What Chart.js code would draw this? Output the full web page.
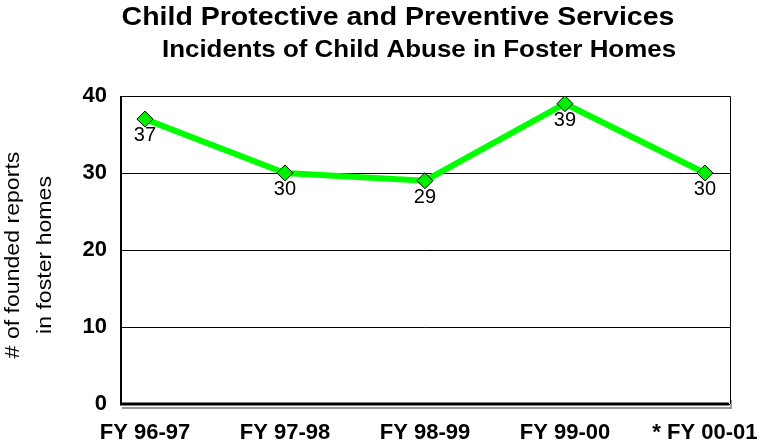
<!DOCTYPE html>
<html>
<head>
<meta charset="utf-8">
<script src="https://cdn.jsdelivr.net/npm/chart.js@4"></script>
<style>
  html, body { margin: 0; padding: 0; background: #fff; }
  #wrap { width: 763px; height: 448px; position: relative; }
</style>
</head>
<body>
<div id="wrap"><canvas id="line-chart" width="763" height="448"></canvas></div>
<script>
// chart data
const categories = ["FY 96-97", "FY 97-98", "FY 98-99", "FY 99-00", "* FY 00-01"];
const reports = [37, 30, 29, 39, 30];
const yTicks = [0, 10, 20, 30, 40];
const titleLines = ["Child Protective and Preventive Services", "Incidents of Child Abuse in Foster Homes"];
const yTitleLines = ["# of founded reports", "in foster homes"];

const FONT = "'Liberation Sans', Arial, sans-serif";

// draw text a little wider than the font gives (the source uses a wide Arial)
function wideText(ctx, text, x, y, stretch) {
  ctx.save();
  ctx.translate(x, y);
  ctx.scale(stretch, 1);
  ctx.fillText(text, 0, 0);
  ctx.restore();
}

// titles, y axis title, frame and value labels
const decorations = {
  id: "decorations",
  beforeDatasetsDraw(chart) {
    const { ctx, chartArea: a } = chart;
    ctx.save();
    // grey shadow under bottom axis
    ctx.strokeStyle = "#9a9a9a";
    ctx.lineWidth = 2;
    ctx.beginPath();
    ctx.moveTo(a.left + 1, a.bottom + 4);
    ctx.lineTo(a.right + 1, a.bottom + 4);
    ctx.lineTo(a.right + 1, a.bottom - 4);
    ctx.stroke();
    // thin top and right border
    ctx.strokeStyle = "#000";
    ctx.lineWidth = 1;
    ctx.beginPath();
    ctx.moveTo(a.left, a.top + 0.5);
    ctx.lineTo(a.right + 0.5, a.top + 0.5);
    ctx.lineTo(a.right + 0.5, a.bottom);
    ctx.stroke();
    // heavier left and bottom axis lines
    ctx.lineWidth = 2;
    ctx.beginPath();
    ctx.moveTo(a.left, a.top);
    ctx.lineTo(a.left, a.bottom);
    ctx.stroke();
    ctx.lineWidth = 3;
    ctx.beginPath();
    ctx.moveTo(a.left - 1, a.bottom);
    ctx.lineTo(a.right - 1, a.bottom);
    ctx.stroke();
    ctx.restore();
  },
  afterDraw(chart) {
    const { ctx } = chart;
    ctx.save();
    ctx.fillStyle = "#000";
    ctx.textAlign = "center";
    ctx.textBaseline = "alphabetic";
    ctx.font = "bold 25px " + FONT;
    wideText(ctx, titleLines[0], 398, 25, 1.14);
    ctx.font = "bold 24px " + FONT;
    wideText(ctx, titleLines[1], 419, 57, 1.08);

    ctx.font = "21px " + FONT;
    ctx.textBaseline = "middle";
    ctx.translate(0, 255);
    ctx.rotate(-Math.PI / 2);
    wideText(ctx, yTitleLines[0], 0, 13, 1.1);
    wideText(ctx, yTitleLines[1], 0, 45, 1.1);
    ctx.restore();

    // value labels below each point
    const meta = chart.getDatasetMeta(0);
    ctx.save();
    ctx.font = "20px " + FONT;
    ctx.fillStyle = "#000";
    ctx.textAlign = "center";
    ctx.textBaseline = "alphabetic";
    meta.data.forEach((pt, i) => {
      ctx.fillText(String(reports[i]), pt.x, pt.y + 22);
    });
    ctx.restore();
  }
};

const ctx = document.getElementById("line-chart").getContext("2d");
new Chart(ctx, {
  type: "line",
  data: {
    datasets: [{
      data: reports.map((v, i) => ({ x: i, y: v })),
      borderColor: "#00ff00",
      borderWidth: 6,
      backgroundColor: "#00ff00",
      pointStyle: "rectRot",
      pointRadius: 8,
      pointBorderColor: "#000",
      pointBorderWidth: 1,
      pointBackgroundColor: "#00ee00",
      tension: 0
    }]
  },
  options: {
    responsive: false,
    animation: false,
    devicePixelRatio: 1,
    layout: { padding: { top: 96, right: 33, left: 0, bottom: 0 } },
    plugins: {
      legend: { display: false },
      tooltip: { enabled: false }
    },
    scales: {
      x: {
        type: "linear",
        min: -0.171,
        max: 4.179,
        afterBuildTicks(scale) {
          scale.ticks = categories.map((c, i) => ({ value: i }));
        },
        afterFit(scale) {
          scale.height = 44;
          // labels may spill past the plot; keep the plot width fixed
          scale.paddingLeft = 0;
          scale.paddingRight = 0;
        },
        ticks: {
          callback: (v) => categories[v],
          color: "#000",
          font: { family: FONT, size: 22, weight: "bold" },
          padding: 16,
          maxRotation: 0,
          autoSkip: false
        },
        grid: { display: false, drawTicks: false },
        border: { display: false }
      },
      y: {
        min: 0,
        max: 40,
        afterBuildTicks(scale) {
          scale.ticks = yTicks.map(v => ({ value: v }));
        },
        afterFit(scale) { scale.width = 121; },
        ticks: {
          color: "#000",
          font: { family: FONT, size: 22, weight: "bold" },
          padding: 14
        },
        grid: { color: "#000", lineWidth: 1, drawTicks: false },
        border: { display: false }
      }
    }
  },
  plugins: [decorations]
});
</script>
</body>
</html>
